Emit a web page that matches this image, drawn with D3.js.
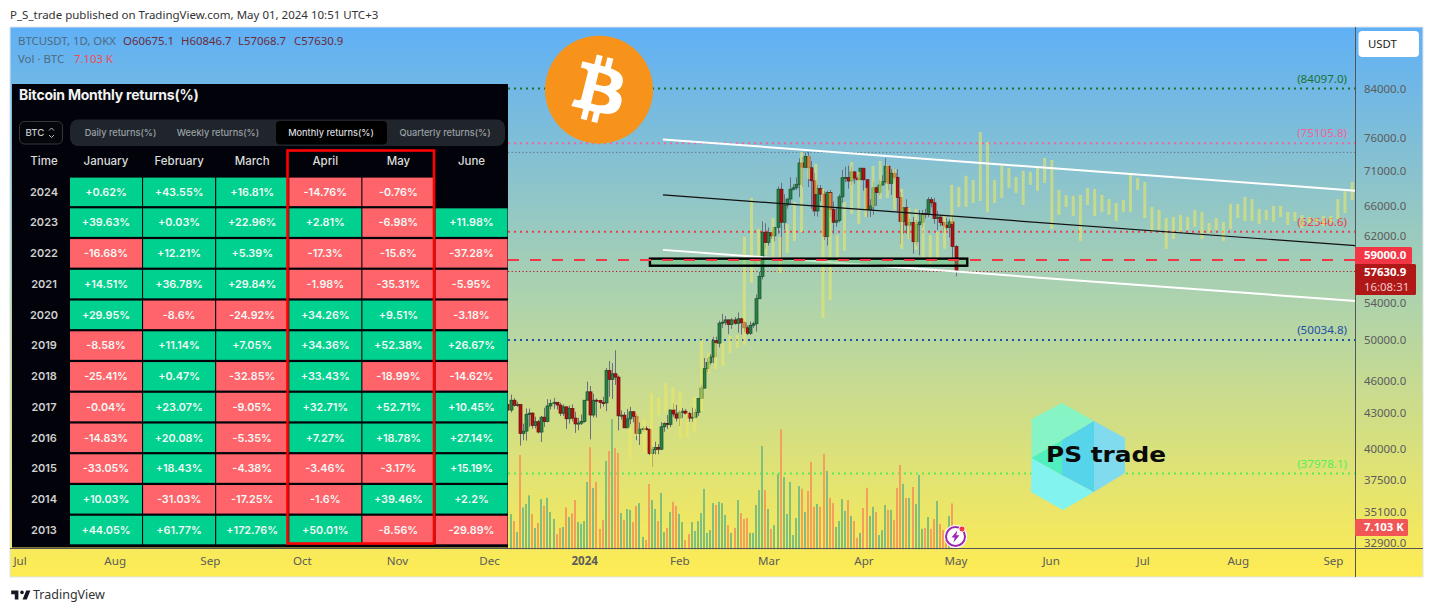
<!DOCTYPE html>
<html><head><meta charset="utf-8">
<script src="https://cdn.jsdelivr.net/npm/d3@7/dist/d3.min.js"></script>
<style>html,body{margin:0;padding:0;background:#fff;overflow:hidden}svg{display:block}</style>
</head><body><svg id="c" width="1433" height="612"></svg>
<script>
// ---------- price candles (daily, starting 2023-12-07)
const firstCandle = "2023-12-07";
const opens = [43790,43290,44180,43720,43790,41250,41450,42890,43020,41940,42260,41370,42660,42270,43660,43870,43990,43740,43010,43580,42520,43440,42580,42070,42140,42280,44180,44950,42850,44180,44160,43970,43930,46970,46110,46660,46340,42780,42840,41730,42510,43140,42740,41260,41620,41660,41580,39570,39890,40080,39930,41820,42120,42030,43300,42940,42580,43080,43190,42990,42580,42660,43090,44340,45300,47150,47770,48300,49960,49700,51800,51900,52150,51650,52150,51780,52260,51850,51300,50730,51570,51730,54480,57060,62500,61190,62440,62030,63130,68300,63800,66100,66930,68300,68500,69000,72100,71470,73080,71390,69500,65300,68390,67610,61930,67840,65500,63800,64040,67230,69950,69980,69470,70780,69890,69650,71330,69650,65470,65980,68500,67840,68900,69360,71620,69140,70590,70000,67150,63900,65740,63420,63790,61280,63470,63810,64950,64940,66840,66410,64280,64480,63750,63420,63110,63840,60675.1];
const highs = [43860,44700,44370,44040,43800,42100,43430,43420,43090,42700,42430,42760,43500,44280,44240,44400,44020,43950,43800,43600,43680,43800,43130,42600,42890,44200,45900,45500,44770,44350,44220,44500,47220,47900,47700,48970,46500,43260,43100,43400,43580,43200,42900,42190,41840,41880,41680,40130,40550,40350,42230,42200,42850,43310,43880,43750,43280,43480,43380,43120,43500,43400,44380,45600,48200,48170,48590,50360,50370,52070,52800,52560,52180,52350,52450,52950,52380,52000,51550,51970,51950,54950,57580,63900,63670,63120,62440,63200,68700,69200,67600,67000,70000,69000,70000,72800,73000,73650,73800,72400,70600,68900,68900,68100,68100,68200,66600,65900,67600,71100,71550,71700,71500,70900,70300,71400,71350,69700,66900,69300,68700,69600,70300,72800,71750,71200,71250,71200,67900,65800,66900,64300,64500,64100,65400,65400,65600,67200,67200,67100,65300,64800,63900,64350,64200,64700,60846.7];
const lows = [42900,43080,43600,43570,40230,40680,40650,41810,41670,41680,41250,40530,41810,42200,43330,43400,43330,42770,42760,41640,42100,42300,41300,41530,41980,42180,44180,40750,42630,42630,43420,43600,43200,44500,44300,45600,41500,42440,41720,41720,42050,42200,40680,40280,41410,41500,39450,38500,39500,39520,39850,41400,41630,41800,42700,42280,41870,42600,42880,42250,42260,42570,42780,44340,45250,46800,47550,47700,48300,49260,51300,51600,50650,51200,51650,50800,50600,50850,50550,50550,51300,50900,54450,56700,60400,60800,61630,61340,62300,59200,62800,65600,66200,68100,68200,67200,68600,71400,68600,65600,64600,64550,66600,61500,60800,64500,62300,63200,63800,66400,69300,68400,68900,69100,69550,69600,68100,64500,64500,64800,66000,67450,68800,69100,68200,67500,69600,65100,61000,62300,62300,61700,59800,60800,59600,63100,64300,64500,65800,63600,62800,63300,62400,62800,61800,59100,57068.7];
const closes = [43290,44180,43720,43790,41250,41450,42890,43020,41940,42260,41370,42660,42270,43660,43870,43990,43740,43010,43580,42520,43440,42580,42070,42140,42280,44180,44950,42850,44180,44160,43970,43930,46970,46110,46660,46340,42780,42840,41730,42510,43140,42740,41260,41620,41660,41580,39570,39890,40080,39930,41820,42120,42030,43300,42940,42580,43080,43190,42990,42580,42660,43090,44340,45300,47150,47770,48300,49960,49700,51800,51900,52150,51650,52150,51780,52260,51850,51300,50730,51570,51730,54480,57060,62500,61190,62440,62030,63130,68300,63800,66100,66930,68300,68500,69000,72100,71470,73080,71390,69500,65300,68390,67610,61930,67840,65500,63800,64040,67230,69950,69980,69470,70780,69890,69650,71330,69650,65470,65980,68500,67840,68900,69360,71620,69140,70590,70000,67150,63900,65740,63420,63790,61280,63470,63810,64950,64940,66840,66410,64280,64480,63750,63420,63110,63840,60670,57630.9];
const volumesK = [11.6,11.4,9.1,5.6,30.4,13.5,14.6,17.4,11.4,6.9,8.5,16.2,14,16.6,12,9.8,4.9,6.9,7.2,13.5,10.4,11.6,15.9,8.8,8.2,9.1,21.7,32.9,19.8,21.7,6.6,9.5,28.5,31.7,42,32.7,31.1,11.7,9.5,13,12.7,8.8,14,14.9,4,3,21.1,15.9,13,9.1,18.2,5.6,6.9,12,15.3,14,11.4,8.8,3,4.9,8.8,5.9,9.1,11.7,19.5,5.3,6.2,14.9,14.3,15.3,14.9,11.1,7.8,5.3,6.9,15.9,11.7,9.8,10.1,5.3,5.3,14.3,19.1,33.3,19.1,13,6.6,7.8,24.3,38.7,23.3,11.4,21.7,4.6,10.1,20.4,19.5,12,18.8,28.2,13.7,14.6,13.7,30.8,25.3,16.6,14.9,7.2,9.1,16.2,12.4,15.9,10.8,9.1,3.7,5.3,13.3,19.8,10.8,13.7,12,4.6,6.2,14.3,12.7,12.7,9.5,19.8,27.2,21.1,16.6,16.6,20.1,14.6,24,6.6,6.9,10.4,6.6,9.8,15.6,8.2,6.2,4.1,10.8,14.8,7.103];
// ---------- pale projected bars
const ghostTops = [41810,42860,42500,44850,44390,45785,45410,44945,43040,44480,50030,48710,49730,49730,50450,50555,61893,67080,62925,61130,64365,61893,63575,66525,73770,73160,71960,68345,67780,62150,66525,72254,70790,68485,71666,72400,71813,71225,68345,65715,65580,64770,62150,62535,64770,68908,68626,70200,69613,76890,75300,69613,71666,71372,70054,70937,70790,71519,72854,72548,68203,67502,67361,67502,68485,68345,67502,66938,66390,66797,70643,69907,69331,65850,65445,64365,64500,64770,64500,65445,65175,63705,64365,63835,66255,66255,67220,66938,65580,65445,65985,65985,65175,65175,64770,64500,64365,64635,64635,66938,68062,69331];
const ghostBottoms = [39221,41040,39625,38420,42860,43130,43310,40870,40955,41380,43220,46740,47130,47420,48710,49220,49525,56285,58540,59635,59390,57460,59890,61380,62535,69760,67640,52360,54337,58540,60140,64905,63575,64500,65850,66938,67080,65445,60387,61633,60263,59140,58540,59263,60387,63575,65850,65850,66390,66660,65175,66390,67080,68485,67784,66120,68908,68062,69190,62925,64770,65850,64635,61380,66120,64635,65175,64770,63965,65175,65175,68203,64365,62535,62795,60387,61633,62535,62795,63185,61633,62405,62795,61380,62925,64365,63965,63965,63575,64095,63835,64500,63445,63965,63055,63705,63705,63315,63705,64230,65040,66797];
const ghostFirst = "2024-01-15T22:00:00Z", ghostLast = "2024-09-07T06:00:00Z";
// ---------- axes
const priceTicks = [84000,76000,71000,66000,62000,54000,50000,46000,43000,40000,37500,35100,32900];
const monthTicks = ["2023-07-01","2023-08-01","2023-09-01","2023-10-01","2023-11-01","2023-12-01","2024-01-01","2024-02-01","2024-03-01","2024-04-01","2024-05-01","2024-06-01","2024-07-01","2024-08-01","2024-09-01"];
const monthTickNames = ["Jul","Aug","Sep","Oct","Nov","Dec","2024","Feb","Mar","Apr","May","Jun","Jul","Aug","Sep"];
// ---------- level lines
const levelPrices = [84097.0,75105.8,62546.6,50034.8,37978.1];
const levelColors = ["#1c7233","#f2649a","#e8404a","#1e4fa8","#52f05a"];
const thinLevels = [73700,57630.9];
const resistance = 59000;
// ---------- channel
const channelDates = ["2024-01-26T16:00:00Z","2024-09-08T08:00:00Z"];
const channelUpper = [75700,68100], channelMid = [67500,60790], channelLower = [60260,54230];
const boxDates = ["2024-01-22T10:00:00Z","2024-05-04T20:00:00Z"], boxPrices = [59180,58320];
// ---------- monthly returns table
const tableMonths = ["January","February","March","April","May","June"];
const tableYears = [2024,2023,2022,2021,2020,2019,2018,2017,2016,2015,2014,2013];
const returnsByYear = [
 [0.62,43.55,16.81,-14.76,-0.76,null],
 [39.63,0.03,22.96,2.81,-6.98,11.98],
 [-16.68,12.21,5.39,-17.3,-15.6,-37.28],
 [14.51,36.78,29.84,-1.98,-35.31,-5.95],
 [29.95,-8.6,-24.92,34.26,9.51,-3.18],
 [-8.58,11.14,7.05,34.36,52.38,26.67],
 [-25.41,0.47,-32.85,33.43,-18.99,-14.62],
 [-0.04,23.07,-9.05,32.71,52.71,10.45],
 [-14.83,20.08,-5.35,7.27,18.78,27.14],
 [-33.05,18.43,-4.38,-3.46,-3.17,15.19],
 [10.03,-31.03,-17.25,-1.6,39.46,2.2],
 [44.05,61.77,172.76,50.01,-8.56,-29.89]];
const tabNames = ["Daily returns(%)","Weekly returns(%)","Monthly returns(%)","Quarterly returns(%)"];

const UI = '"Noto Sans",sans-serif', TB = 'Inter,sans-serif';
const svg = d3.select("#c");
const parse = s => new Date(s.length>10 ? s : s+"T00:00:00Z");
const x = d3.scaleUtc().domain([parse("2024-01-01"),parse("2024-05-01")]).range([584.2,955.5]);
const y = d3.scaleLog().domain([84000,32900]).range([89,543]);
const v = d3.scaleLinear().domain([0,10]).range([549.3,518.3]);

// frame
const defs = svg.append("defs");
const gr = defs.append("linearGradient").attr("id","bg").attr("x1",0).attr("x2",0).attr("y1",0).attr("y2",1);
gr.append("stop").attr("offset","0%").attr("stop-color","#5fb0f6");
gr.append("stop").attr("offset","50%").attr("stop-color","#aed3ac");
gr.append("stop").attr("offset","100%").attr("stop-color","#ffec52");
svg.append("rect").attr("x",10).attr("y",27).attr("width",1413).attr("height",550).attr("fill","url(#bg)").attr("stroke","#e0e3eb").attr("stroke-width",1);
svg.append("text").attr("x",10).attr("y",19).attr("font-family",UI).attr("font-size",11.5).attr("fill","#333").text("P_S_trade published on TradingView.com, May 01, 2024 10:51 UTC+3");

// level lines
const xL=508, xR=1355;
levelPrices.forEach((p,i)=>{
  svg.append("line").attr("x1",xL).attr("x2",xR).attr("y1",y(p)).attr("y2",y(p))
    .attr("stroke",levelColors[i]).attr("stroke-width",2).attr("stroke-dasharray","2 4");
  svg.append("text").attr("x",1347).attr("y",y(p)-10).attr("dy","0.35em").attr("text-anchor","end")
    .attr("font-family",UI).attr("font-size",11.6).attr("fill",levelColors[i]).text(`(${p.toFixed(1)})`);
});
thinLevels.forEach((p,i)=>svg.append("line").attr("x1",xL).attr("x2",xR).attr("y1",y(p)).attr("y2",y(p))
  .attr("stroke",i?"#b01020":"#667").attr("stroke-width",1).attr("stroke-dasharray","1.2 2.4"));

// volumes
const dates = closes.map((_,i)=>d3.utcDay.offset(parse(firstCandle),i));
const up = i => closes[i]>=opens[i];
svg.append("g").selectAll("rect").data(volumesK).join("rect")
  .attr("x",(d,i)=>Math.round(x(dates[i]))-1).attr("width",2)
  .attr("y",d=>v(d)).attr("height",d=>v(0)-v(d))
  .attr("fill",(d,i)=>up(i)?"#7fc07f":"#f2a05c");

// candles
const cg = svg.append("g");
const idx = d3.range(closes.length);
cg.selectAll("line").data(idx).join("line")
  .attr("x1",i=>Math.round(x(dates[i]))+.5).attr("x2",i=>Math.round(x(dates[i]))+.5)
  .attr("y1",i=>y(highs[i])).attr("y2",i=>y(lows[i]))
  .attr("stroke","#6b6d80").attr("stroke-width",1);
cg.selectAll("rect").data(idx).join("rect")
  .attr("x",i=>Math.round(x(dates[i]))-1).attr("width",3)
  .attr("y",i=>y(Math.max(opens[i],closes[i])))
  .attr("height",i=>Math.max(1,Math.abs(y(opens[i])-y(closes[i]))))
  .attr("fill",i=>up(i)?"#2a8048":"#b01212")
  .attr("stroke",i=>up(i)?"#14522c":"#6e0e10").attr("stroke-width",.7);

// projected bars
const gx = d3.scaleLinear().domain([0,ghostTops.length-1]).range([x(parse(ghostFirst)),x(parse(ghostLast))]);
svg.append("g").selectAll("rect").data(ghostTops).join("rect")
  .attr("x",(d,i)=>gx(i)-1.5).attr("width",3)
  .attr("y",d=>y(d)).attr("height",(d,i)=>y(ghostBottoms[i])-y(d))
  .attr("fill","#f2e95c").attr("fill-opacity",.55);

// channel
const chan = (p,col,w)=>svg.append("line").attr("x1",x(parse(channelDates[0]))).attr("x2",x(parse(channelDates[1])))
  .attr("y1",y(p[0])).attr("y2",y(p[1])).attr("stroke",col).attr("stroke-width",w);
chan(channelUpper,"#fff",2); chan(channelLower,"#fff",2); chan(channelMid,"#111",1.2);

// support box + 59000 dash
svg.append("rect").attr("x",x(parse(boxDates[0]))).attr("y",y(boxPrices[0]))
  .attr("width",x(parse(boxDates[1]))-x(parse(boxDates[0]))).attr("height",y(boxPrices[1])-y(boxPrices[0]))
  .attr("fill","#58c86e").attr("fill-opacity",.4).attr("stroke","#000").attr("stroke-width",2.4);
svg.append("line").attr("x1",xL).attr("x2",xR).attr("y1",y(resistance)).attr("y2",y(resistance))
  .attr("stroke","#f23645").attr("stroke-width",2).attr("stroke-dasharray","11 11");

// axis lines
svg.append("line").attr("x1",10).attr("x2",1423).attr("y1",548.5).attr("y2",548.5).attr("stroke","#555").attr("stroke-width",1);
svg.append("line").attr("x1",1355.5).attr("x2",1355.5).attr("y1",27).attr("y2",577).attr("stroke","#555").attr("stroke-width",1);
const yAxis = svg.append("g").attr("transform","translate(1355,0)").call(d3.axisRight(y).tickValues(priceTicks).tickFormat(d=>d.toFixed(1)).tickSize(0).tickPadding(9));
yAxis.select(".domain").remove();
yAxis.selectAll("text").attr("font-family",UI).attr("font-size",11.4).attr("fill","#5c5c5c");
const xAxis = svg.append("g").attr("transform","translate(0,548)").call(d3.axisBottom(x).tickValues(monthTicks.map(parse)).tickFormat((d,i)=>monthTickNames[i]).tickSize(0).tickPadding(9));
xAxis.select(".domain").remove();
xAxis.selectAll("text").attr("font-family",UI).attr("font-size",11.6).attr("fill","#5c5c5c").attr("font-weight",(d,i)=>monthTickNames[i]==="2024"?700:400);

// legend
const lg = svg.append("text").attr("x",18).attr("y",45).attr("font-family",UI).attr("font-size",11.4);
lg.append("tspan").attr("fill","#4c6a80").text("BTCUSDT, 1D, OKX");
lg.append("tspan").attr("x",123).attr("fill","#6a2c3c").text("O60675.1");
lg.append("tspan").attr("x",181).attr("fill","#6a2c3c").text("H60846.7");
lg.append("tspan").attr("x",238).attr("fill","#6a2c3c").text("L57068.7");
lg.append("tspan").attr("x",294).attr("fill","#6a2c3c").text("C57630.9");
const lg2 = svg.append("text").attr("x",18).attr("y",63).attr("font-family",UI).attr("font-size",11.4);
lg2.append("tspan").attr("fill","#4c6a80").text("Vol · BTC");
lg2.append("tspan").attr("x",74).attr("fill","#f24d50").text("7.103 K");

// price labels
const label=(x0,y0,w,h,fill)=>svg.append("rect").attr("x",x0).attr("y",y0).attr("width",w).attr("height",h).attr("rx",1.5).attr("fill",fill);
const ltext=(tx,ty,s,fill,weight)=>svg.append("text").attr("x",tx).attr("y",ty).attr("dy","0.35em").attr("font-family",UI).attr("font-size",11.4).attr("font-weight",weight).attr("fill",fill).text(s);
label(1355,247,57,17,"#f23645"); ltext(1364,255.5,"59000.0","#fff",700);
label(1355,264,61,31,"#b01818"); ltext(1364,272.5,"57630.9","#fff",700); ltext(1364,287,"16:08:31","#f0c8c8",400);
label(1355,519,53,17,"#f25555"); ltext(1364,527.5,"7.103 K","#fff",700);
svg.append("rect").attr("x",1358.5).attr("y",31).attr("width",60.5).attr("height",26).attr("rx",4).attr("fill","#fff");
ltext(1368,44,"USDT","#222",400);

// bitcoin logo
const bc = svg.append("g").attr("transform","translate(599,89.7)");
bc.append("circle").attr("r",54).attr("fill","#f7931a");
bc.append("path").attr("transform","scale(1.6875) translate(-32,-32)").attr("fill","#fff")
 .attr("d","M46.103 27.444c.637-4.258-2.605-6.547-7.038-8.074l1.438-5.768-3.511-.875-1.4 5.616c-.923-.23-1.871-.447-2.813-.662l1.41-5.653-3.509-.875-1.439 5.766c-.764-.174-1.514-.346-2.242-.527l.004-.018-4.842-1.209-.934 3.75s2.605.597 2.55.634c1.422.355 1.679 1.296 1.636 2.042l-1.638 6.571c.098.025.225.061.365.117-.117-.029-.242-.061-.371-.092l-2.296 9.205c-.174.432-.615 1.08-1.609.834.035.051-2.552-.637-2.552-.637l-1.743 4.019 4.569 1.139c.85.213 1.683.436 2.503.646l-1.453 5.834 3.507.875 1.439-5.772c.958.26 1.888.5 2.798.726l-1.434 5.745 3.511.875 1.453-5.823c5.987 1.133 10.489.676 12.384-4.739 1.527-4.36-.076-6.875-3.226-8.515 2.294-.529 4.022-2.038 4.483-5.155zM38.08 38.693c-1.085 4.36-8.426 2.003-10.806 1.412l1.928-7.729c2.38.594 10.012 1.77 8.878 6.317zm1.086-11.312c-.99 3.966-7.1 1.951-9.082 1.457l1.748-7.007c1.982.494 8.365 1.416 7.334 5.55z");

// PS trade logo
const ps = svg.append("g");
[["1062,403 1094,421 1062,440 1031.5,458 1031.5,419","#86f4c4"],
 ["1094,421 1125,438 1125,473 1094,492","#80dbee"],
 ["1031.5,458 1062,475 1094,492 1063,510 1031,492","#82f3ee"],
 ["1031.5,458 1062,440 1062,475","#4fefc0"],
 ["1062,440 1094,421 1094,492 1062,475","#55d4ea"]].forEach(p=>ps.append("polygon").attr("points",p[0]).attr("fill",p[1]));
ps.append("text").attr("x",1046).attr("y",462).attr("font-family",'"DejaVu Sans"').attr("font-weight",700).attr("font-size",21)
  .attr("textLength",120).attr("lengthAdjust","spacingAndGlyphs").attr("fill","#0a0a0a").text("PS trade");

// lightning badge
const lb = svg.append("g").attr("transform","translate(955.5,536.5)");
lb.append("circle").attr("r",11.5).attr("fill","#fff");
lb.append("circle").attr("r",9.5).attr("fill","#fff").attr("stroke","#9c27b0").attr("stroke-width",2);
lb.append("path").attr("d","M1.8-6L-4 1h3.2L-2 6l6-7.2H.8z").attr("fill","#9c27b0");
lb.append("circle").attr("cx",6.5).attr("cy",-7.5).attr("r",3).attr("fill","#f23645").attr("stroke","#fff").attr("stroke-width",.8);

// ---------- table
const t = svg.append("g");
t.append("rect").attr("x",12).attr("y",84).attr("width",496).attr("height",463.5).attr("fill","#02030a");
t.append("text").attr("x",19).attr("y",100).attr("font-family",TB).attr("font-weight",700).attr("font-size",14).attr("letter-spacing",-.22).attr("fill","#f2f2f2").text("Bitcoin Monthly returns(%)");
t.append("rect").attr("x",19.5).attr("y",121.5).attr("width",43).attr("height",22.5).attr("rx",5).attr("fill","#05060c").attr("stroke","#33363d");
t.append("text").attr("x",25.5).attr("y",136).attr("font-family",TB).attr("font-size",9.6).attr("font-weight",500).attr("fill","#c8cacc").text("BTC");
t.append("path").attr("d","M49 130.5l2.5-2.5 2.5 2.5M49 135l2.5 2.5 2.5-2.5").attr("fill","none").attr("stroke","#b8babc");
t.append("rect").attr("x",70).attr("y",119.5).attr("width",435).attr("height",26.5).attr("rx",8).attr("fill","#20252b");
t.append("rect").attr("x",276).attr("y",121).attr("width",111).attr("height",23.5).attr("rx",4).attr("fill","#000");
const tabX=[120.5,218,331,445];
tabNames.forEach((s,i)=>t.append("text").attr("x",tabX[i]).attr("y",135.5).attr("text-anchor","middle").attr("font-family",TB)
  .attr("font-size",9.2).attr("font-weight",500).attr("fill",i===2?"#d8dadc":"#9aa0a6").text(s));
const cx = d3.scaleBand().domain(tableMonths).range([70,507.5]).paddingInner(.015);
const ry = d3.scaleBand().domain(tableYears).range([177.6,544.3]).paddingInner(.072);
t.append("text").attr("x",44).attr("y",161).attr("dy",".35em").attr("text-anchor","middle").attr("font-family",TB).attr("font-size",11.5).attr("font-weight",500).attr("fill","#dcdcdc").text("Time");
tableMonths.forEach(m=>t.append("text").attr("x",cx(m)+cx.bandwidth()/2).attr("y",161).attr("dy",".35em").attr("text-anchor","middle")
  .attr("font-family",TB).attr("font-size",11.5).attr("font-weight",500).attr("fill","#dcdcdc").text(m));
tableYears.forEach((yr,r)=>{
  const cy=ry(yr)+ry.bandwidth()/2;
  t.append("text").attr("x",44).attr("y",cy).attr("dy",".35em").attr("text-anchor","middle").attr("font-family",TB).attr("font-size",11).attr("font-weight",600).attr("fill","#d0d0d0").text(yr);
  returnsByYear[r].forEach((val,c)=>{
    if(val===null) return;
    const m=tableMonths[c];
    t.append("rect").attr("x",cx(m)).attr("y",ry(yr)).attr("width",cx.bandwidth()).attr("height",ry.bandwidth()).attr("fill",val>=0?"#00d18f":"#ff646a");
    t.append("text").attr("x",cx(m)+cx.bandwidth()/2).attr("y",cy).attr("dy",".35em").attr("text-anchor","middle")
      .attr("font-family",TB).attr("font-size",10.8).attr("font-weight",600).attr("fill","#f2f8f5").text((val>0?"+":"")+val+"%");
  });
});
t.append("rect").attr("x",287.5).attr("y",150.5).attr("width",146.5).attr("height",393).attr("fill","none").attr("stroke","#f00").attr("stroke-width",2.6);

// footer
const f = svg.append("g").attr("transform","translate(10,587) scale(.6)");
f.append("path").attr("d","M14 6H2v6h6v9h6V6zM28 21h-7l6-15h7l-6 15z").attr("fill","#131722");
f.append("circle").attr("cx",20).attr("cy",9).attr("r",3).attr("fill","#131722");
svg.append("text").attr("x",33).attr("y",598.5).attr("font-family",UI).attr("font-size",12.5).attr("fill","#333").text("TradingView");
</script></body></html>
